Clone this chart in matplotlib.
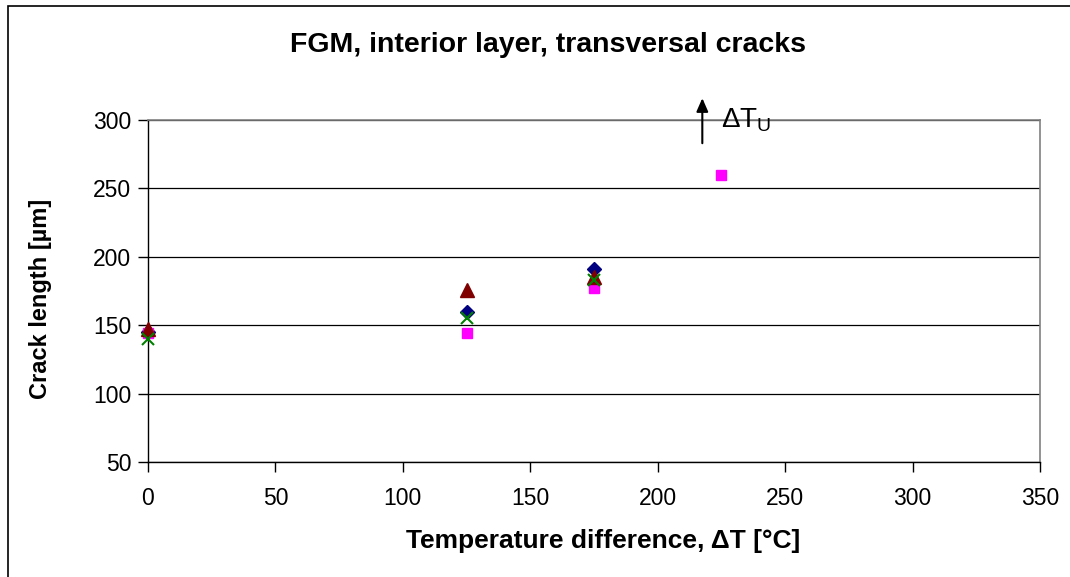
import matplotlib
matplotlib.use("Agg")
import matplotlib.pyplot as plt
from matplotlib.patches import Rectangle

plt.rcParams['font.family'] = ['Liberation Sans', 'DejaVu Sans']
plt.rcParams['mathtext.fontset'] = 'custom'
plt.rcParams['mathtext.rm'] = 'Liberation Sans'

# data
x_main = [0, 125, 175]
diamond_y = [145, 160, 191]
square_x = [0, 125, 175, 225]
square_y = [144, 144, 177, 260]
triangle_y = [147, 176, 185]
cross_y = [140, 155, 183]
x_ticks = [0, 50, 100, 150, 200, 250, 300, 350]
y_ticks = [50, 100, 150, 200, 250, 300]

W, H = 1070, 577
fig = plt.figure(figsize=(W / 100, H / 100), dpi=100)
ax = fig.add_axes([148 / W, 1 - 462 / H, (1040 - 148) / W, (462 - 120) / H])

# outer chart border
fig.patches.append(Rectangle((8 / W, -0.1), 1.2, 1 - 6 / H + 0.1, transform=fig.transFigure,
                             fill=False, edgecolor='black', linewidth=1.2, zorder=0))

ax.set_xlim(0, 350)
ax.set_ylim(50, 300)
ax.set_xticks(x_ticks)
ax.set_yticks(y_ticks)
ax.yaxis.grid(True, color='black', linewidth=0.9)
ax.set_axisbelow(True)
for s in ['top', 'right']:
    ax.spines[s].set_color('#808080')
    ax.spines[s].set_linewidth(1.2)
for s in ['left', 'bottom']:
    ax.spines[s].set_color('black')
    ax.spines[s].set_linewidth(1.0)
ax.tick_params(axis='both', direction='out', length=7, width=1, labelsize=16.5)
ax.tick_params(axis='x', pad=11)
ax.tick_params(axis='y', pad=5)

ax.plot(x_main, diamond_y, linestyle='none', marker='D', color='#000080', markersize=7, zorder=3, clip_on=False)
ax.plot(square_x, square_y, linestyle='none', marker='s', color='#FF00FF', markersize=7, zorder=3, clip_on=False)
ax.plot(x_main, triangle_y, linestyle='none', marker='^', color='#800000', markersize=10, zorder=3, clip_on=False)
ax.plot(x_main, cross_y, linestyle='none', marker='x', color='#008000', markersize=9, markeredgewidth=1.5, zorder=4, clip_on=False)

ax.annotate('', xy=(217.5, 318), xytext=(217.5, 281),
            arrowprops=dict(arrowstyle='-|>,head_length=0.8,head_width=0.35', color='black', lw=1.5),
            annotation_clip=False)
ax.text(225.0, 300, 'ΔT$_{\\mathrm{U}}$', fontsize=20, va='center', ha='left')

fig.text(548 / W, 1 - 45 / H, 'FGM, interior layer, transversal cracks', fontsize=20.5,
         fontweight='bold', ha='center', va='center')
fig.text(603 / W, 1 - 541 / H, 'Temperature difference, ΔT [°C]', fontsize=19,
         fontweight='bold', ha='center', va='center')
fig.text(41 / W, 1 - 299 / H, 'Crack length [µm]', fontsize=17, fontweight='bold',
         ha='center', va='center', rotation=90)

fig.savefig('out.png', dpi=100)
